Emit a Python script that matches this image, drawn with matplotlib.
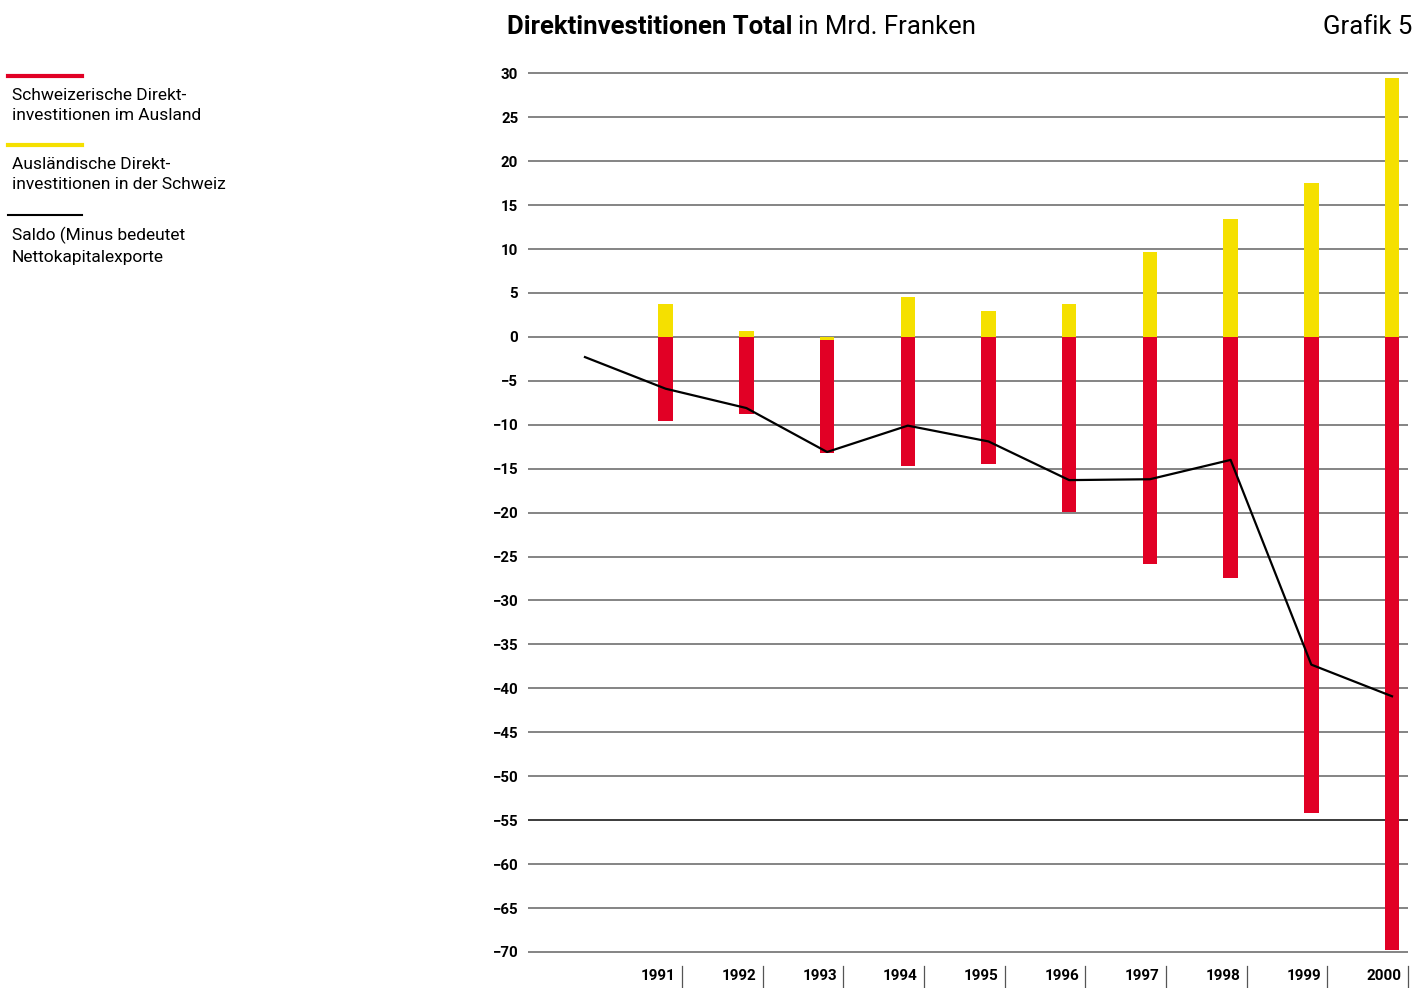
import matplotlib
matplotlib.use("Agg")
import matplotlib.pyplot as plt
from matplotlib import font_manager
import matplotlib.transforms as mtransforms

# werte in Mrd. Franken
years = [1991, 1992, 1993, 1994, 1995, 1996, 1997, 1998, 1999, 2000]
inflow = [3.7, 0.65, -0.3, 4.5, 2.9, 3.7, 9.7, 13.4, 17.5, 29.5]          # Ausländische DI in der Schweiz
outflow = [-9.6, -8.8, -12.9, -14.7, -14.5, -19.9, -25.8, -27.4, -54.2, -69.8]  # Schweizerische DI im Ausland
saldo_years = [1990, 1991, 1992, 1993, 1994, 1995, 1996, 1997, 1998, 1999, 2000]
saldo = [-2.3, -5.9, -8.1, -13.1, -10.1, -11.9, -16.3, -16.2, -14.0, -37.3, -40.9]
yticks = list(range(30, -75, -5))

RED = "#E10025"
YELLOW = "#F5E000"
GRID = "#707070"

available = {f.name for f in font_manager.fontManager.ttflist}
font = "DejaVu Sans"
for cand in ["Roboto", "Noto Sans", "Lato"]:
    if cand in available:
        font = cand
        break
plt.rcParams["font.family"] = [font, "DejaVu Sans"]

fig = plt.figure(figsize=(14.14, 9.88), dpi=100)
ax = fig.add_axes([528 / 1414, 0.032, 880 / 1414, 0.8983])

# bars: gelb nach oben, rot darunter (1993 gelb negativ -> rot schliesst an)
w = 0.18
ax.bar(years, inflow, width=w, color=YELLOW, zorder=2)
red_bottom = [min(v, 0) for v in inflow]
ax.bar(years, outflow, width=w, bottom=red_bottom, color=RED, zorder=2)

ax.plot(saldo_years, saldo, color="black", lw=1.6, zorder=3)

ax.set_xlim(1989.294, 2000.198)
ax.set_ylim(-70.5, 30.5)
ax.set_yticks(yticks)
ax.set_yticklabels([str(t).replace("-", "\u2212") for t in yticks],
                   fontsize=10.8, fontweight="bold")
ax.tick_params(axis="y", length=0, pad=7)
ax.grid(axis="y", color=GRID, lw=1.2, zorder=1)
for t, gl in zip(yticks, ax.get_ygridlines()):
    if t == -55:
        gl.set_color("#1a1a1a")
ax.set_axisbelow(True)
ax.set_xticks([])
for s in ax.spines.values():
    s.set_visible(False)

# jahr-beschriftung mit trennstrich
trans = mtransforms.blended_transform_factory(ax.transData, ax.transAxes)
for y in years:
    ax.plot([y + 0.2, y + 0.2], [-0.0108, -0.0345], transform=trans,
            color="#555555", lw=0.9, clip_on=False)
    ax.annotate(str(y), xy=(y + 0.2, -0.0225), xycoords=trans,
                xytext=(-4.5, 0), textcoords="offset points",
                ha="right", va="center", fontsize=11, fontweight="bold")

# titel
t1 = fig.text(507 / 1414, 1 - 27 / 988, "Direktinvestitionen Total", fontsize=18.5,
              fontweight="bold", ha="left", va="center")
fig.canvas.draw()
bb = t1.get_window_extent()
fig.text(bb.x1 / 1414 + 0.004, 1 - 27 / 988, "in Mrd. Franken", fontsize=18.5,
         ha="left", va="center")
fig.text(1412 / 1414, 1 - 27 / 988, "Grafik 5", fontsize=18.5, ha="right", va="center")

# legende links
legend = [
    (RED, 4.0, 76, "Schweizerische Direkt-\ninvestitionen im Ausland"),
    (YELLOW, 4.0, 145, "Ausländische Direkt-\ninvestitionen in der Schweiz"),
    ("black", 2.0, 215, "Saldo (Minus bedeutet\nNettokapitalexporte"),
]
for color, lw, ypx, label in legend:
    fig.add_artist(plt.Line2D([8 / 1414, 82 / 1414], [1 - ypx / 988] * 2,
                              color=color, lw=lw * 0.75, transform=fig.transFigure))
    fig.text(12 / 1414, 1 - (ypx + 12) / 988, label, fontsize=12.5, ha="left", va="top",
             linespacing=1.45)

fig.savefig("out.png", dpi=100)
